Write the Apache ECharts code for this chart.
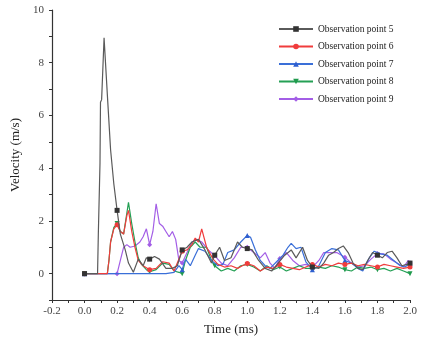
<!DOCTYPE html>
<html><head><meta charset="utf-8">
<script src="https://cdn.jsdelivr.net/npm/echarts@6/dist/echarts.min.js"></script>
<style>html,body{margin:0;padding:0;background:#fff}#c{width:423px;height:346px}</style>
</head><body><div id="c"></div>
<script>
const seriesNames = ['Observation point 5','Observation point 6','Observation point 7','Observation point 8','Observation point 9'];
const xTicks = [-0.2,0.0,0.2,0.4,0.6,0.8,1.0,1.2,1.4,1.6,1.8,2.0];
const yTicks = [0,2,4,6,8,10];

const point5 = [[0,0],[0.08,0],[0.085,1.6],[0.095,4.2],[0.098,6.5],[0.105,6.6],[0.12,8.95],[0.14,6.8],[0.16,4.7],[0.18,3.4],[0.2,2.4],[0.22,1.5],[0.25,0.9],[0.27,0.4],[0.3,0.05],[0.33,0.55],[0.36,0.3],[0.38,0.6],[0.4,0.55],[0.43,0.65],[0.46,0.55],[0.5,0.2],[0.54,0.2],[0.57,0.3],[0.6,0.9],[0.63,1.0],[0.66,1.2],[0.7,1.3],[0.74,0.9],[0.78,0.4],[0.8,0.7],[0.83,1.0],[0.86,0.5],[0.9,0.6],[0.94,1.2],[0.97,1.0],[1.0,0.95],[1.03,0.9],[1.07,0.5],[1.11,0.2],[1.15,0.1],[1.19,0.4],[1.23,0.7],[1.27,0.9],[1.3,0.6],[1.34,1.0],[1.37,0.5],[1.4,0.25],[1.44,0.2],[1.47,0.4],[1.5,0.7],[1.53,0.8],[1.56,0.95],[1.59,1.05],[1.62,0.8],[1.65,0.4],[1.68,0.2],[1.71,0.15],[1.74,0.5],[1.77,0.8],[1.8,0.7],[1.83,0.6],[1.86,0.8],[1.89,0.85],[1.92,0.6],[1.95,0.3],[1.98,0.35],[2.0,0.4]];
const point6 = [[0,0],[0.14,0],[0.15,0.5],[0.16,1.2],[0.18,1.7],[0.2,1.85],[0.22,1.6],[0.24,1.5],[0.26,2.2],[0.27,2.4],[0.29,1.6],[0.31,1.0],[0.33,0.5],[0.36,0.3],[0.4,0.15],[0.44,0.2],[0.48,0.45],[0.52,0.4],[0.55,0.1],[0.57,0.4],[0.6,0.85],[0.63,0.9],[0.66,1.1],[0.68,1.35],[0.7,1.2],[0.72,1.7],[0.75,1.0],[0.79,0.55],[0.82,0.35],[0.86,0.25],[0.9,0.3],[0.94,0.2],[0.97,0.3],[1.0,0.38],[1.04,0.3],[1.08,0.1],[1.12,0.25],[1.16,0.2],[1.2,0.35],[1.24,0.25],[1.28,0.2],[1.32,0.15],[1.36,0.25],[1.4,0.35],[1.44,0.25],[1.48,0.35],[1.52,0.3],[1.56,0.4],[1.6,0.35],[1.64,0.4],[1.68,0.3],[1.72,0.35],[1.76,0.3],[1.8,0.25],[1.84,0.35],[1.88,0.3],[1.92,0.25],[1.96,0.2],[2.0,0.25]];
const point7 = [[0,0],[0.5,0],[0.55,0.05],[0.58,0.3],[0.6,0.15],[0.62,0.55],[0.65,0.3],[0.68,0.7],[0.7,0.95],[0.74,0.85],[0.78,0.5],[0.82,0.3],[0.85,0.35],[0.88,0.8],[0.92,0.9],[0.96,1.2],[1.0,1.45],[1.02,1.38],[1.05,0.9],[1.08,0.5],[1.11,0.3],[1.14,0.2],[1.18,0.45],[1.22,0.7],[1.25,1.0],[1.27,1.15],[1.3,0.95],[1.33,1.0],[1.36,0.45],[1.4,0.15],[1.44,0.3],[1.48,0.8],[1.52,0.95],[1.56,0.9],[1.6,0.5],[1.64,0.4],[1.68,0.2],[1.71,0.1],[1.75,0.6],[1.78,0.85],[1.82,0.75],[1.86,0.7],[1.9,0.5],[1.94,0.3],[1.97,0.25],[2.0,0.4]];
const point8 = [[0,0],[0.14,0],[0.15,0.5],[0.16,1.2],[0.18,1.75],[0.2,1.9],[0.22,1.6],[0.24,1.5],[0.26,2.3],[0.27,2.7],[0.29,1.9],[0.31,1.2],[0.33,0.6],[0.35,0.35],[0.38,0.15],[0.4,0.07],[0.44,0.15],[0.48,0.4],[0.52,0.35],[0.55,0.1],[0.58,0.05],[0.6,0.0],[0.62,0.5],[0.65,1.0],[0.68,1.2],[0.71,1.0],[0.75,1.0],[0.78,0.5],[0.8,0.3],[0.84,0.1],[0.88,0.2],[0.92,0.1],[0.96,0.3],[1.0,0.35],[1.04,0.25],[1.08,0.1],[1.12,0.3],[1.16,0.15],[1.2,0.25],[1.24,0.1],[1.28,0.2],[1.32,0.3],[1.36,0.2],[1.4,0.2],[1.44,0.25],[1.48,0.2],[1.52,0.3],[1.56,0.25],[1.6,0.15],[1.64,0.1],[1.68,0.25],[1.72,0.2],[1.76,0.25],[1.8,0.15],[1.84,0.2],[1.88,0.1],[1.92,0.2],[1.96,0.1],[2.0,0.0]];
const point9 = [[0,0],[0.2,0],[0.22,0.5],[0.24,1.0],[0.26,1.1],[0.28,1.0],[0.31,1.05],[0.34,1.2],[0.36,1.4],[0.38,1.7],[0.4,1.1],[0.42,1.6],[0.44,2.65],[0.46,1.9],[0.48,1.8],[0.5,1.6],[0.52,1.4],[0.54,1.6],[0.56,1.3],[0.58,0.5],[0.6,0.4],[0.63,0.8],[0.66,1.2],[0.69,1.3],[0.72,1.2],[0.76,0.9],[0.8,0.68],[0.84,0.4],[0.88,0.3],[0.92,0.6],[0.96,1.0],[1.0,1.0],[1.04,0.8],[1.08,0.6],[1.11,0.8],[1.14,0.4],[1.17,0.2],[1.2,0.57],[1.24,0.8],[1.28,0.5],[1.32,0.3],[1.36,0.35],[1.4,0.24],[1.44,0.5],[1.47,0.8],[1.51,0.8],[1.55,0.8],[1.6,0.62],[1.64,0.4],[1.68,0.25],[1.72,0.3],[1.76,0.55],[1.8,0.76],[1.84,0.75],[1.88,0.55],[1.92,0.4],[1.96,0.25],[1.99,0.5],[2.0,0.4]];

const allData = [point5, point6, point7, point8, point9];
const colors = ['#5a5a5a','#f03c3c','#3a6fd8','#25a055','#a35ee6'];
const markerColors = ['#333333','#f03c3c','#2f5fcf','#1f9a4c','#a35ee6'];
const symbols = ['rect','circle','triangle','path://M0,0 L10,0 L5,9 Z','diamond'];
const FONT = '"Liberation Serif", "DejaVu Serif", serif';

function isMarker(t){ const k = t*5; return Math.abs(k - Math.round(k)) < 1e-6; }

const chart = echarts.init(document.getElementById('c'), null, {renderer:'canvas'});
chart.setOption({
  animation: false,
  backgroundColor: '#fff',
  grid: {left: 52, right: 13, top: 10, bottom: 46},
  legend: {
    orient: 'vertical', left: 273, top: 18,
    itemWidth: 34, itemHeight: 7, itemGap: 5.5,
    textStyle: {fontFamily: FONT, fontSize: 9.5, color: '#222', lineHeight: 12},
    data: seriesNames
  },
  xAxis: {
    type: 'value', min: -0.2, max: 2.0, interval: 0.1,
    name: 'Time (ms)', nameLocation: 'middle', nameGap: 23,
    nameTextStyle: {fontFamily: FONT, fontSize: 13, color: '#222'},
    axisLine: {onZero: false, lineStyle: {color: '#333', width: 1.2}},
    axisTick: {show: true, length: 3, lineStyle: {color: '#333'}},
    splitLine: {show: false},
    axisLabel: {
      fontFamily: FONT, fontSize: 11, color: '#444', margin: 6, showMinLabel: true, showMaxLabel: true,
      formatter: v => { const m = xTicks.find(x => Math.abs(x - v) < 1e-6); return m === undefined ? '' : m.toFixed(1); }
    }
  },
  yAxis: {
    type: 'value', min: -1, max: 10, interval: 1,
    name: 'Velocity (m/s)', nameLocation: 'middle', nameGap: 27, nameRotate: 90,
    nameTextStyle: {fontFamily: FONT, fontSize: 13, color: '#222'},
    axisLine: {show: true, onZero: false, lineStyle: {color: '#333', width: 1.2}},
    axisTick: {show: true, length: 3, lineStyle: {color: '#333'}},
    splitLine: {show: false},
    axisLabel: {
      fontFamily: FONT, fontSize: 11, color: '#444', margin: 8,
      formatter: v => yTicks.indexOf(Math.round(v)) >= 0 && Math.abs(v - Math.round(v)) < 1e-6 ? String(Math.round(v)) : ''
    }
  },
  series: allData.map((d, i) => ({
    name: seriesNames[i],
    type: 'line',
    data: d,
    symbol: symbols[i],
    showSymbol: true,
    showAllSymbol: true,
    symbolSize: (val) => isMarker(val[0]) ? 5 : 0,
    lineStyle: {color: colors[i], width: 1.2},
    itemStyle: {color: markerColors[i]},
    z: 10 - i
  }))
});
</script>
</body></html>
